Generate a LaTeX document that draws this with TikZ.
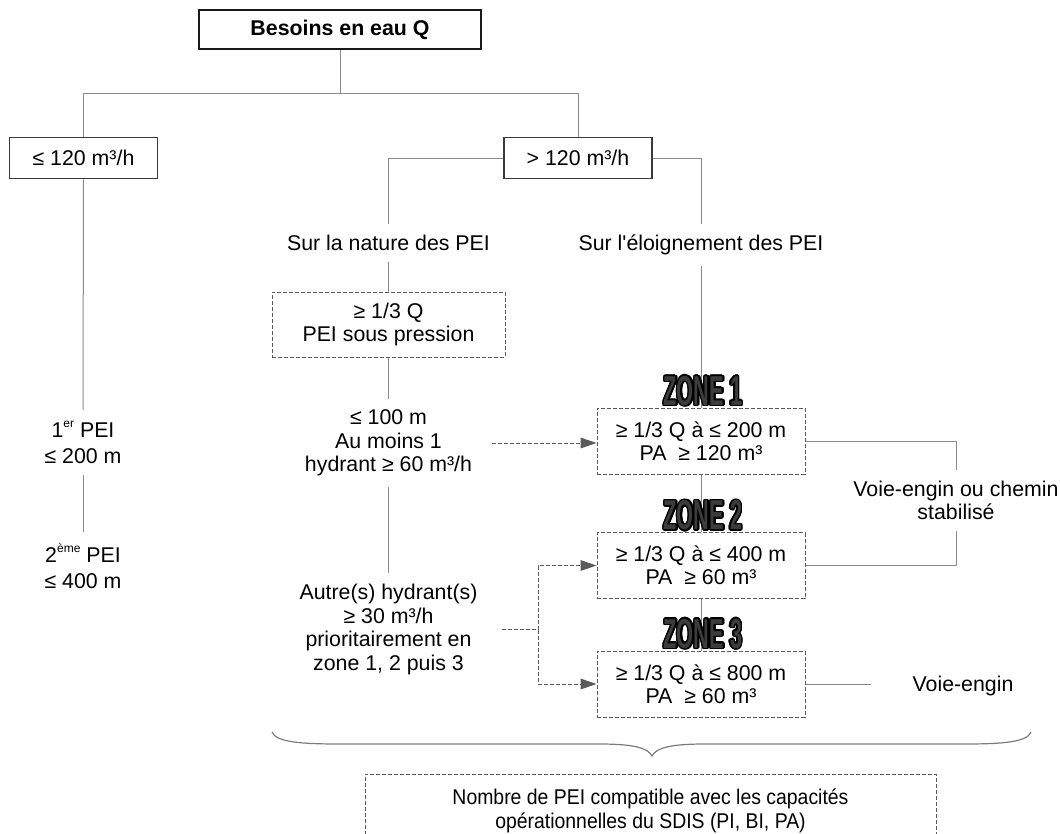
\documentclass[tikz,border=0pt]{standalone}
\usepackage{fontspec}
\usepackage{graphicx}
\usepackage{contour}
\setmainfont{Liberation Sans}
\newfontfamily\narrowfont{Liberation Sans}[FakeStretch=0.91]
\newfontfamily\zonefont{Liberation Sans}[FakeStretch=0.52]
\usetikzlibrary{arrows.meta}

\definecolor{linegray}{HTML}{8A8A8A}
\definecolor{boxdark}{HTML}{3A3A3A}
\definecolor{dashgray}{HTML}{5A5A5A}
\definecolor{zonefill}{HTML}{3C3C3C}

\contourlength{1.1pt}
\newcommand\supx[1]{\raisebox{0.48em}{\fontsize{9}{9}\selectfont #1}}
% straight apostrophe, kept out of the TeX quote mapping
\newcommand\sq{\XeTeXglyph\XeTeXcharglyph"27\relax}

\tikzset{
  every node/.style={font=\fontsize{16}{17.6}\selectfont},
  conn/.style={draw=linegray, line width=0.75pt},
  solidbox/.style={draw=boxdark, line width=1pt, inner sep=0pt, align=center},
  dbox/.style={draw=dashgray, line width=0.75pt, dash pattern=on 3pt off 1.5pt, inner sep=0pt, align=center},
  lbl/.style={align=center, inner xsep=2pt, inner ysep=8pt},
  dline/.style={draw=dashgray, line width=0.75pt, dash pattern=on 3pt off 1.5pt},
  darrow/.style={dline, -{Triangle[length=12pt,width=8pt]}},
  zonelbl/.style={inner sep=0pt, text=zonefill, font={\fontsize{31.4}{32}\zonefont\bfseries}},
  bracepath/.style={draw=linegray!90!black, line width=0.9pt}
}

\begin{document}
\begin{tikzpicture}[x=0.75pt, y=-0.75pt]
\useasboundingbox (0,0) rectangle (1060,833);

% --- boxes of the first two levels
\node[solidbox, draw=black!90, minimum width=211.5pt, minimum height=29.25pt] (top) at (340,29.5) {\bfseries Besoins en eau Q};
\node[solidbox, minimum width=111pt, minimum height=31pt] (le120) at (83.5,158) {≤ 120 m³/h};
\node[solidbox, minimum width=111pt, minimum height=31pt] (gt120) at (578,158) {> 120 m³/h};

% --- left branch (Q <= 120)
\node[lbl, font=\fontsize{16}{19.5}\selectfont] (pei1) at (83,442.5) {1\supx{er} PEI\\≤ 200 m};
\node[lbl, font=\fontsize{16}{19.5}\selectfont] (pei2) at (83,566) {2\supx{ème} PEI\\≤ 400 m};

% --- nature of the water points
\node[lbl] (nature) at (388.5,243) {Sur la nature des PEI};
\node[dbox, minimum width=174.75pt, minimum height=48.75pt] (press) at (388.5,324.5) {≥ 1/3 Q\\PEI sous pression};
\node[lbl] (n100) at (388.5,443) {≤ 100 m\\Au moins 1\\hydrant ≥ 60 m³/h};
\node[lbl] (autre) at (388.5,629.5) {Autre(s) hydrant(s)\\≥ 30 m³/h\\prioritairement en\\zone 1, 2 puis 3};

% --- distance of the water points
\node[lbl] (eloign) at (701,245) {Sur l\sq éloignement des PEI};
\node[dbox, minimum width=156pt, minimum height=49.5pt] (z1) at (701,441) {≥ 1/3 Q à ≤ 200 m\\PA\ \ ≥ 120 m³};
\node[dbox, minimum width=156pt, minimum height=49.5pt] (z2) at (701,565.5) {≥ 1/3 Q à ≤ 400 m\\PA\ \ ≥ 60 m³};
\node[dbox, minimum width=156pt, minimum height=49.5pt] (z3) at (701,684) {≥ 1/3 Q à ≤ 800 m\\PA\ \ ≥ 60 m³};

\node[lbl] (voie) at (956,500.5) {Voie-engin ou chemin\\stabilisé};
\node[lbl] (ve) at (963,686) {Voie-engin};

% --- result box
\node[dbox, minimum width=428.25pt, minimum height=54.75pt] (nb) at (650.5,810.75)
  {\narrowfont Nombre de PEI compatible avec les capacités\\\narrowfont opérationnelles du SDIS (PI, BI, PA)};

% --- tree connectors
\draw[conn] (top.south) -- ++(0,44) coordinate (split);
\draw[conn] (le120.north) |- (split) -| (gt120.north);
\draw[conn] (le120.south) -- (pei1.north);
\draw[conn] (pei1.south) -- (pei2.north);
\draw[conn] (gt120.west) -| (nature.north);
\draw[conn] (gt120.east) -| (eloign.north);
\draw[conn] (nature.south) -- (press.north);
\draw[conn] (press.south) -- (n100.north);
\draw[conn] (n100.south) -- (autre.north);
\draw[conn] (eloign.south) -- (z1.north);
\draw[conn] (z1.south) -- (z2.north);
\draw[conn] (z2.south) -- (z3.north);
\draw[conn] (z1.east) -| (voie.north);
\draw[conn] (z2.east) -| (voie.south);
\path (z3.east -| ve.west) ++(-28.7pt,0) coordinate (veend);
\draw[conn] (z3.east) -- (veend);

% --- dashed arrows towards the zones
\path (n100.east) ++(13pt,0) coordinate (a1);
\draw[darrow] (a1) -- (a1 -| z1.west);
\path (autre.east) ++(16.5pt,0) coordinate (a2);
\path (a2) ++(27pt,0) coordinate (fork);
\draw[dline] (a2) -- (fork);
\draw[darrow] (fork) |- (z2.west);
\draw[darrow] (fork) |- (z3.west);

% --- zone titles over the boxes
\node[zonelbl, anchor=south] (zl1) at ([xshift=1.5pt]z1.north) {\contour{black}{ZONE 1}};
\node[zonelbl, anchor=south] (zl2) at ([xshift=1.5pt]z2.north) {\contour{black}{ZONE 2}};
\node[zonelbl, anchor=south] (zl3) at ([xshift=1.5pt]z3.north) {\contour{black}{ZONE 3}};

% --- curly brace gathering the middle and right branches
\coordinate (bl) at (272,732);
\coordinate (br) at (1031,732);
\coordinate (bt) at (652,756);
\draw[bracepath] (bl) .. controls (276,742) and (300,744) .. (340,744) -- (600,744)
  .. controls (634,744) and (648,748) .. (bt)
  .. controls (656,748) and (670,744) .. (704,744) -- (964,744)
  .. controls (1004,744) and (1027,742) .. (br);
\end{tikzpicture}
\end{document}
